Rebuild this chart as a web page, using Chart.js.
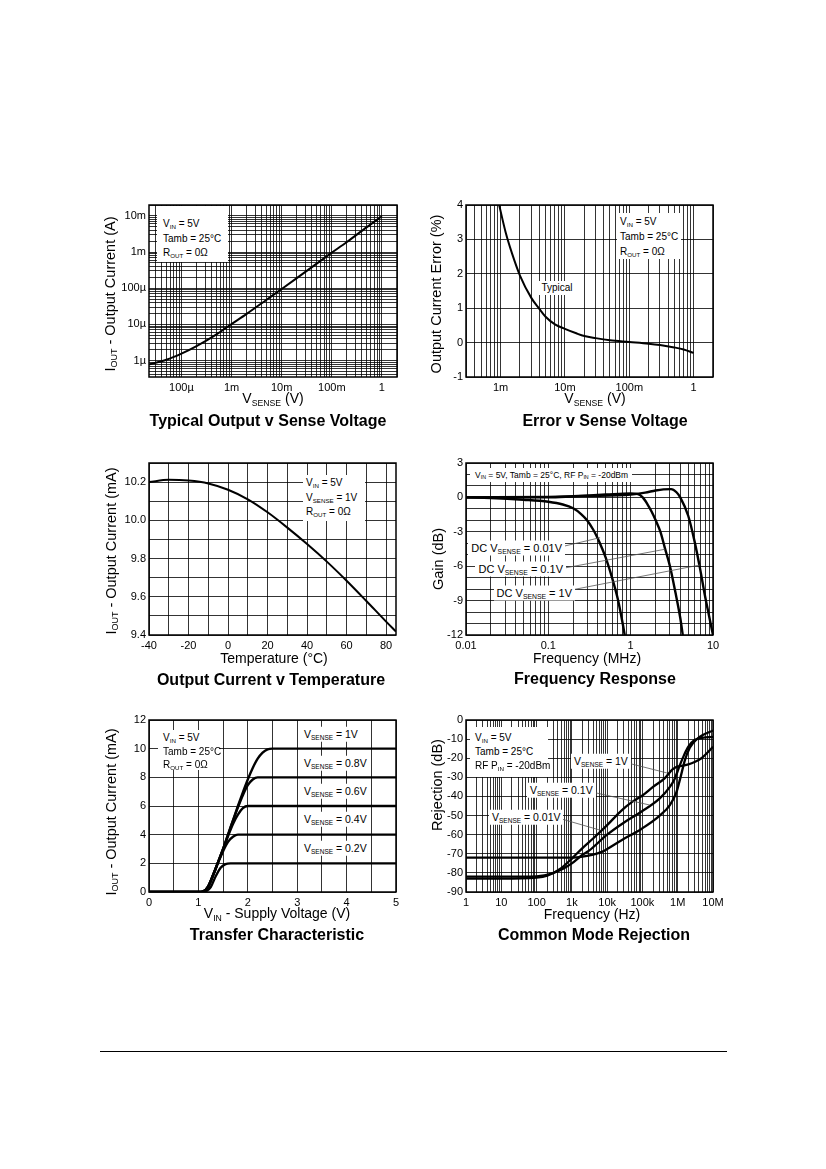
<!DOCTYPE html>
<html>
<head>
<meta charset="utf-8">
<script src="https://cdn.jsdelivr.net/npm/chart.js@4.4.1/dist/chart.umd.min.js"></script>
<style>
html, body { margin: 0; padding: 0; background: #fff; }
#page { position: relative; width: 826px; height: 1169px; overflow: hidden; font-family: "Liberation Sans", Arial, sans-serif; color: #000; }
canvas { position: absolute; }
.t { position: absolute; white-space: nowrap; line-height: 1; }
.c { transform: translate(-50%, -50%); }
.l { transform: translateY(-50%); }
.r { transform: translate(-50%, -50%) rotate(-90deg); font-size: 14.5px; }
.h { font-weight: bold; font-size: 16px; }
.a { font-size: 14px; }
.n { font-size: 10px; }
.m { font-size: 10.5px; }
.k { font-size: 11px; }
.box { position: absolute; background: #fff; }
.lab { background: #fff; padding: 2px 3px; }
.s { font-size: 62%; vertical-align: -0.3em; line-height: 0; }
#rule { position: absolute; left: 100px; top: 1051px; width: 627px; height: 1px; background: #000; }
</style>
</head>
<body>
<div id="page">
  <canvas id="cOut"></canvas>
  <canvas id="cErr"></canvas>
  <canvas id="cTemp"></canvas>
  <canvas id="cFreq"></canvas>
  <canvas id="cTrans"></canvas>
  <canvas id="cCmr"></canvas>

  <!-- Typical Output v Sense Voltage -->
  <div class="box" style="left:157px;top:206px;width:71px;height:56px"></div>
  <div class="t l n" style="left:163px;top:224px">V<span class="s">IN</span> = 5V</div>
  <div class="t l n" style="left:163px;top:239px">Tamb = 25°C</div>
  <div class="t l n" style="left:163px;top:253px">R<span class="s">OUT</span> = 0Ω</div>
  <div class="t r" style="left:110px;top:294px">I<span class="s">OUT</span> - Output Current (A)</div>
  <div class="t c a" style="left:273px;top:398px">V<span class="s">SENSE</span> (V)</div>
  <div class="t c h" style="left:268px;top:421px">Typical Output v Sense Voltage</div>

  <!-- Error v Sense Voltage -->
  <div class="box" style="left:617px;top:213px;width:64px;height:46px"></div>
  <div class="t l n" style="left:620px;top:222px">V<span class="s">IN</span> = 5V</div>
  <div class="t l n" style="left:620px;top:237px">Tamb = 25°C</div>
  <div class="t l n" style="left:620px;top:252px">R<span class="s">OUT</span> = 0Ω</div>
  <div class="t c n lab" style="left:557px;top:288px">Typical</div>
  <div class="t r" style="left:436px;top:294px">Output Current Error (%)</div>
  <div class="t c a" style="left:595px;top:398px">V<span class="s">SENSE</span> (V)</div>
  <div class="t c h" style="left:605px;top:421px">Error v Sense Voltage</div>

  <!-- Output Current v Temperature -->
  <div class="box" style="left:303px;top:475px;width:62px;height:46px"></div>
  <div class="t l n" style="left:306px;top:483px">V<span class="s">IN</span> = 5V</div>
  <div class="t l n" style="left:306px;top:498px">V<span class="s">SENSE</span> = 1V</div>
  <div class="t l n" style="left:306px;top:512px">R<span class="s">OUT</span> = 0Ω</div>
  <div class="t r" style="left:111px;top:551px">I<span class="s">OUT</span> - Output Current (mA)</div>
  <div class="t c a" style="left:274px;top:658px">Temperature (°C)</div>
  <div class="t c h" style="left:271px;top:680px">Output Current v Temperature</div>

  <!-- Frequency Response -->
  <div class="box" style="left:470px;top:468px;width:162px;height:14px"></div>
  <div class="t l" style="left:475px;top:475px;font-size:8.5px">V<span class="s">IN</span> = 5V, Tamb = 25°C, RF P<span class="s">IN</span> = -20dBm</div>
  <div class="t l k lab" style="right:261px;top:548px">DC V<span class="s">SENSE</span> = 0.01V</div>
  <div class="t l k lab" style="right:260px;top:569px">DC V<span class="s">SENSE</span> = 0.1V</div>
  <div class="t l k lab" style="right:251px;top:593px">DC V<span class="s">SENSE</span> = 1V</div>
  <div class="t r" style="left:438px;top:559px">Gain (dB)</div>
  <div class="t c a" style="left:587px;top:658px">Frequency (MHz)</div>
  <div class="t c h" style="left:595px;top:679px">Frequency Response</div>

  <!-- Transfer Characteristic -->
  <div class="box" style="left:158px;top:730px;width:61px;height:40px"></div>
  <div class="t l n" style="left:163px;top:738px">V<span class="s">IN</span> = 5V</div>
  <div class="t l n" style="left:163px;top:752px">Tamb = 25°C</div>
  <div class="t l n" style="left:163px;top:765px">R<span class="s">OUT</span> = 0Ω</div>
  <div class="t l m lab" style="left:301px;top:734px">V<span class="s">SENSE</span> = 1V</div>
  <div class="t l m lab" style="left:301px;top:763px">V<span class="s">SENSE</span> = 0.8V</div>
  <div class="t l m lab" style="left:301px;top:791px">V<span class="s">SENSE</span> = 0.6V</div>
  <div class="t l m lab" style="left:301px;top:819px">V<span class="s">SENSE</span> = 0.4V</div>
  <div class="t l m lab" style="left:301px;top:848px">V<span class="s">SENSE</span> = 0.2V</div>
  <div class="t r" style="left:111px;top:812px">I<span class="s">OUT</span> - Output Current (mA)</div>
  <div class="t c a" style="left:277px;top:913px">V<span class="s">IN</span> - Supply Voltage (V)</div>
  <div class="t c h" style="left:277px;top:935px">Transfer Characteristic</div>

  <!-- Common Mode Rejection -->
  <div class="box" style="left:470px;top:727px;width:78px;height:50px"></div>
  <div class="t l n" style="left:475px;top:738px">V<span class="s">IN</span> = 5V</div>
  <div class="t l n" style="left:475px;top:752px">Tamb = 25°C</div>
  <div class="t l n" style="left:475px;top:766px">RF P<span class="s">IN</span> = -20dBm</div>
  <div class="t l m lab" style="left:571px;top:761px">V<span class="s">SENSE</span> = 1V</div>
  <div class="t l m lab" style="left:527px;top:790px">V<span class="s">SENSE</span> = 0.1V</div>
  <div class="t l m lab" style="left:489px;top:817px">V<span class="s">SENSE</span> = 0.01V</div>
  <div class="t r" style="left:437px;top:785px">Rejection (dB)</div>
  <div class="t c a" style="left:592px;top:914px">Frequency (Hz)</div>
  <div class="t c h" style="left:594px;top:935px">Common Mode Rejection</div>

  <div id="rule"></div>
</div>

<script>
// --- Dados ---

// Typical Output v Sense Voltage (V, A)
const opVsense = [2.25e-5, 5e-5, 1e-4, 2e-4, 5e-4, 1e-3, 2e-3, 5e-3, 1e-2, 2e-2, 5e-2, 0.1, 0.2, 0.5, 1];
const opIout = [7.8e-7, 1.05e-6, 1.55e-6, 2.5e-6, 5.3e-6, 1.02e-5, 1.95e-5, 4.8e-5, 9.5e-5, 1.9e-4, 4.8e-4, 9.6e-4, 1.9e-3, 4.9e-3, 9.8e-3];
const opXTicks = [1e-4, 1e-3, 1e-2, 1e-1, 1];
const opXLabels = ['100µ', '1m', '10m', '100m', '1'];
const opYTicks = [1e-6, 1e-5, 1e-4, 1e-3, 1e-2];
const opYLabels = ['1µ', '10µ', '100µ', '1m', '10m'];

// Error v Sense Voltage (V, %)
const errVsense = [9.5e-4, 1.2e-3, 1.5e-3, 2e-3, 3e-3, 4e-3, 5e-3, 7e-3, 1e-2, 1.5e-2, 2e-2, 3e-2, 5e-2, 0.1, 0.2, 0.3, 0.5, 0.7, 1];
const errPct = [4.0, 3.2, 2.6, 1.95, 1.3, 0.98, 0.75, 0.53, 0.4, 0.27, 0.19, 0.13, 0.07, 0.02, -0.03, -0.07, -0.14, -0.2, -0.3];
const errXTicks = [1e-3, 1e-2, 1e-1, 1];
const errXLabels = ['1m', '10m', '100m', '1'];
const errYTicks = [-1, 0, 1, 2, 3, 4];
const errYLabels = ['-1', '0', '1', '2', '3', '4'];

// Output Current v Temperature (°C, mA)
const tempC = [-40, -30, -20, -10, 0, 10, 20, 30, 40, 50, 60, 70, 80, 85];
const tempIout = [10.200, 10.212, 10.208, 10.193, 10.160, 10.110, 10.042, 9.962, 9.876, 9.784, 9.684, 9.578, 9.470, 9.418];
const tempXTicks = [-40, -20, 0, 20, 40, 60, 80];
const tempXLabels = ['-40', '-20', '0', '20', '40', '60', '80'];
const tempYTicks = [9.4, 9.6, 9.8, 10.0, 10.2];
const tempYLabels = ['9.4', '9.6', '9.8', '10.0', '10.2'];

// Frequency Response (MHz, dB)
const frGain001 = [[0.01, 0], [0.02, -0.05], [0.05, -0.2], [0.1, -0.38], [0.15, -0.62], [0.2, -0.95], [0.25, -1.45], [0.3, -2.05], [0.35, -2.8], [0.4, -3.6], [0.45, -4.45], [0.5, -5.3], [0.6, -7.1], [0.7, -8.9], [0.8, -11], [0.86, -12.3]];
const frGain01 = [[0.01, 0], [0.1, 0], [0.2, 0.1], [0.5, 0.25], [1, 0.35], [1.2, 0.3], [1.4, 0], [1.6, -0.6], [1.8, -1.25], [2, -1.95], [2.3, -3], [2.6, -4.4], [3, -6], [3.5, -8.3], [4, -10.5], [4.35, -12.3]];
const frGain1 = [[0.01, 0], [0.1, 0.05], [0.3, 0.12], [1, 0.25], [1.5, 0.42], [2, 0.6], [2.5, 0.7], [3.1, 0.72], [3.6, 0.45], [4, 0], [5, -1.6], [6, -3.9], [7, -6.3], [8, -8.6], [9, -10.4], [10, -12]];
const frPointer001 = [[0.1455, -4.3], [0.425, -3.51]];
const frPointer01 = [[0.152, -6.18], [2.62, -4.52]];
const frPointer1 = [[0.192, -8.07], [6.97, -5.89]];
const frXTicks = [0.01, 0.1, 1, 10];
const frXLabels = ['0.01', '0.1', '1', '10'];
const frYTicks = [-12, -9, -6, -3, 0, 3];
const frYLabels = ['-12', '-9', '-6', '-3', '0', '3'];

// Transfer Characteristic (V, mA)
const trIout1 = [[0, 0], [1.0, 0], [1.1, 0.05], [1.2, 0.4], [1.3, 1.2], [1.4, 2.1], [1.5, 3.0], [1.6, 4.0], [1.7, 5.0], [1.8, 6.0], [1.9, 6.95], [2.0, 7.85], [2.1, 8.65], [2.2, 9.3], [2.3, 9.72], [2.4, 9.95], [2.5, 10], [5, 10]];
const trIout08 = [[0, 0], [1.0, 0], [1.1, 0.05], [1.2, 0.4], [1.3, 1.2], [1.4, 2.1], [1.5, 3.0], [1.6, 4.0], [1.7, 4.98], [1.8, 5.9], [1.9, 6.75], [2.0, 7.45], [2.1, 7.85], [2.2, 8.0], [2.3, 8.0], [5, 8]];
const trIout06 = [[0, 0], [1.0, 0], [1.1, 0.05], [1.2, 0.4], [1.3, 1.2], [1.4, 2.1], [1.5, 2.98], [1.6, 3.9], [1.7, 4.75], [1.8, 5.4], [1.9, 5.85], [2.0, 6.0], [5, 6]];
const trIout04 = [[0, 0], [1.0, 0], [1.1, 0.05], [1.2, 0.4], [1.3, 1.2], [1.4, 2.05], [1.5, 2.85], [1.6, 3.5], [1.7, 3.85], [1.8, 4.0], [5, 4]];
const trIout02 = [[0, 0], [1.05, 0], [1.15, 0.05], [1.25, 0.35], [1.35, 1.1], [1.45, 1.7], [1.55, 1.95], [1.65, 2.0], [5, 2]];
const trXTicks = [0, 1, 2, 3, 4, 5];
const trXLabels = ['0', '1', '2', '3', '4', '5'];
const trYTicks = [0, 2, 4, 6, 8, 10, 12];
const trYLabels = ['0', '2', '4', '6', '8', '10', '12'];

// Common Mode Rejection (Hz, dB)
const cmrRej1 = [[1, -83], [10, -83], [100, -82.5], [200, -81.5], [500, -77.5], [1000, -72.5], [2000, -67], [4000, -62], [10000, -55], [25000, -47.5], [50000, -43], [100000, -39.5], [200000, -35], [425000, -30.5], [700000, -26], [1000000, -24.3], [1300000, -24], [2000000, -23.2], [3000000, -22], [4700000, -20], [7000000, -17], [10000000, -14]];
const cmrRej01 = [[1, -82], [10, -82], [100, -81.8], [300, -80], [600, -77.5], [1000, -75], [2000, -70.5], [3000, -68.5], [10000, -60], [31000, -53.5], [93000, -48], [310000, -41], [600000, -35], [810000, -31], [1130000, -24], [1500000, -18.5], [2000000, -14], [3000000, -10.5], [5000000, -9.3], [10000000, -8.8]];
const cmrRej001 = [[1, -72], [100, -72], [1000, -72], [2000, -71.5], [4000, -70.5], [7000, -69], [10000, -67.5], [25000, -63], [93000, -57], [310000, -50], [600000, -44.5], [910000, -38], [1200000, -30], [1600000, -21], [2200000, -14.5], [3500000, -10], [5000000, -8], [10000000, -5.5]];
const cmrPointer1 = [[29900, -22], [494000, -27.7]];
const cmrPointer01 = [[2860, -37.2], [162000, -44.5]];
const cmrPointer001 = [[332, -50.8], [6250, -57.6]];
const cmrXTicks = [1, 10, 100, 1e3, 1e4, 1e5, 1e6, 1e7];
const cmrXLabels = ['1', '10', '100', '1k', '10k', '100k', '1M', '10M'];
const cmrYTicks = [-90, -80, -70, -60, -50, -40, -30, -20, -10, 0];
const cmrYLabels = ['-90', '-80', '-70', '-60', '-50', '-40', '-30', '-20', '-10', '0'];

// --- Layout ---
const FONT = '"Liberation Sans", Arial, sans-serif';
const AX_W = 45, AX_H = 24, PAD_T = 10, PAD_R = 24;

// --- Helpers de eixo ---
function logGrid(min, max) {
    const out = [];
    for (let e = Math.floor(Math.log10(min)) - 1; e <= Math.ceil(Math.log10(max)); e++) {
        for (let m = 1; m < 10; m++) {
            const v = m * Math.pow(10, e);
            if (v >= min * 0.9999 && v <= max * 1.0001) out.push(v);
        }
    }
    return out;
}
function linGrid(min, max, step) {
    const out = [];
    const n = Math.round((max - min) / step);
    for (let i = 0; i <= n; i++) out.push(+(min + i * step).toFixed(6));
    return out;
}
function labeler(vals, labels) {
    return v => {
        const i = vals.findIndex(t => Math.abs(t - v) <= Math.abs(t) * 1e-6 + 1e-9);
        return i < 0 ? '' : labels[i];
    };
}
const pairs = arr => arr.map(([x, y]) => ({ x, y }));
const zip = (xs, ys) => xs.map((x, i) => ({ x, y: ys[i] }));

const curve = (data, width = 2) => ({
    data, borderColor: '#000', borderWidth: width, pointRadius: 0, fill: false,
    cubicInterpolationMode: 'monotone'
});
const pointer = data => ({
    data: pairs(data), borderColor: '#555', borderWidth: 0.8, pointRadius: 0, fill: false, tension: 0
});

const framePlugin = {
    id: 'frame',
    beforeDatasetsDraw(chart) {
        const { ctx, chartArea: a } = chart;
        ctx.save();
        ctx.strokeStyle = '#000';
        ctx.lineWidth = 1.5;
        ctx.strokeRect(a.left, a.top, a.right - a.left, a.bottom - a.top);
        ctx.restore();
    }
};

function axis(a, dir) {
    return {
        type: a.type || 'linear', min: a.min, max: a.max,
        grid: { color: '#000', lineWidth: 0.8, drawTicks: false },
        border: { display: false },
        ticks: {
            autoSkip: false, maxRotation: 0, padding: dir === 'x' ? 4 : 3, color: '#000',
            font: { family: FONT, size: 11 }, callback: labeler(a.ticks, a.labels)
        },
        afterBuildTicks: s => { s.ticks = a.grid.map(v => ({ value: v })); },
        afterFit: s => { if (dir === 'x') s.height = AX_H; else s.width = AX_W; }
    };
}

function makeChart(id, box, cfg) {
    const [L, T, R, B] = box;
    const cv = document.getElementById(id);
    const w = R - L + AX_W + PAD_R, h = B - T + PAD_T + AX_H;
    cv.width = w; cv.height = h;
    cv.style.left = (L - AX_W) + 'px';
    cv.style.top = (T - PAD_T) + 'px';
    cv.style.width = w + 'px';
    cv.style.height = h + 'px';
    return new Chart(cv, {
        type: 'line',
        data: { datasets: cfg.datasets },
        options: {
            responsive: false, animation: false,
            layout: { padding: { top: PAD_T, right: PAD_R, left: 0, bottom: 0 } },
            plugins: { legend: { display: false }, tooltip: { enabled: false } },
            elements: { point: { radius: 0 } },
            scales: { x: axis(cfg.x, 'x'), y: axis(cfg.y, 'y') }
        },
        plugins: [framePlugin]
    });
}

// --- Gráficos ---
makeChart('cOut', [149, 205, 397, 377], {
    datasets: [curve(zip(opVsense, opIout))],
    x: { type: 'logarithmic', min: 2.25e-5, max: 2, grid: logGrid(2.25e-5, 2), ticks: opXTicks, labels: opXLabels },
    y: { type: 'logarithmic', min: 3.5e-7, max: 2e-2, grid: logGrid(3.5e-7, 2e-2), ticks: opYTicks, labels: opYLabels }
});

makeChart('cErr', [466, 205, 713, 377], {
    datasets: [curve(zip(errVsense, errPct))],
    x: { type: 'logarithmic', min: 2.9e-4, max: 2, grid: logGrid(2.9e-4, 2), ticks: errXTicks, labels: errXLabels },
    y: { min: -1, max: 4, grid: linGrid(-1, 4, 1), ticks: errYTicks, labels: errYLabels }
});

makeChart('cTemp', [149, 463, 396, 635], {
    datasets: [curve(zip(tempC, tempIout))],
    x: { min: -40, max: 85, grid: linGrid(-40, 80, 10), ticks: tempXTicks, labels: tempXLabels },
    y: { min: 9.4, max: 10.3, grid: linGrid(9.4, 10.3, 0.1), ticks: tempYTicks, labels: tempYLabels }
});

makeChart('cFreq', [466, 463, 713, 635], {
    datasets: [
        pointer(frPointer001), pointer(frPointer01), pointer(frPointer1),
        curve(pairs(frGain001), 2.4), curve(pairs(frGain01), 2.4), curve(pairs(frGain1), 2.4)
    ],
    x: { type: 'logarithmic', min: 0.01, max: 10, grid: logGrid(0.01, 10), ticks: frXTicks, labels: frXLabels },
    y: { min: -12, max: 3, grid: linGrid(-12, 3, 1), ticks: frYTicks, labels: frYLabels }
});

makeChart('cTrans', [149, 720, 396, 892], {
    datasets: [
        curve(pairs(trIout1), 2.4), curve(pairs(trIout08), 2.4), curve(pairs(trIout06), 2.4),
        curve(pairs(trIout04), 2.4), curve(pairs(trIout02), 2.4)
    ],
    x: { min: 0, max: 5, grid: linGrid(0, 5, 0.5), ticks: trXTicks, labels: trXLabels },
    y: { min: 0, max: 12, grid: linGrid(0, 12, 2), ticks: trYTicks, labels: trYLabels }
});

makeChart('cCmr', [466, 720, 713, 892], {
    datasets: [
        pointer(cmrPointer1), pointer(cmrPointer01), pointer(cmrPointer001),
        curve(pairs(cmrRej1), 2.3), curve(pairs(cmrRej01), 2.3), curve(pairs(cmrRej001), 2.3)
    ],
    x: { type: 'logarithmic', min: 1, max: 1e7, grid: logGrid(1, 1e7), ticks: cmrXTicks, labels: cmrXLabels },
    y: { min: -90, max: 0, grid: linGrid(-90, 0, 10), ticks: cmrYTicks, labels: cmrYLabels }
});
</script>
</body>
</html>
